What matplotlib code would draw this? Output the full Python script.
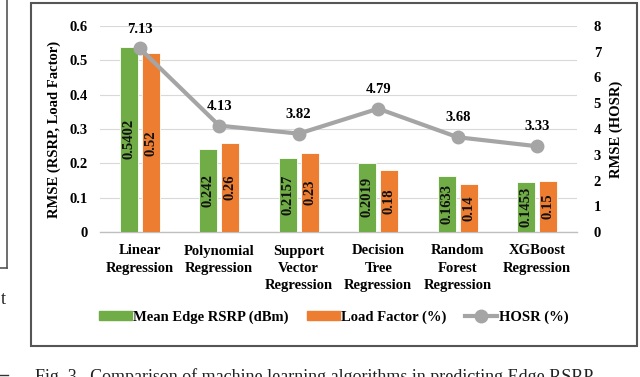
import matplotlib.pyplot as plt
import matplotlib.lines as mlines
import matplotlib.patches as mpatches
import numpy as np

plt.rcParams['font.family'] = ['Liberation Serif', 'DejaVu Serif']

# Datos
modelos = ["Linear\nRegression", "Polynomial\nRegression", "Support\nVector\nRegression",
           "Decision\nTree\nRegression", "Random\nForest\nRegression", "XGBoost\nRegression"]
rsrp = [0.5402, 0.242, 0.2157, 0.2019, 0.1633, 0.1453]
carga = [0.52, 0.26, 0.23, 0.18, 0.14, 0.15]
hosr = [7.13, 4.13, 3.82, 4.79, 3.68, 3.33]
etiquetas_rsrp = ["0.5402", "0.242", "0.2157", "0.2019", "0.1633", "0.1453"]
etiquetas_carga = ["0.52", "0.26", "0.23", "0.18", "0.14", "0.15"]

verde = "#70ad47"
naranja = "#ed7d31"
gris = "#a5a5a5"

W, H = 640, 377
fig = plt.figure(figsize=(6.4, 3.77), dpi=100)
ax = fig.add_axes([100 / W, 1 - 232 / H, 477 / W, 206 / H])
ax2 = ax.twinx()

x = np.arange(len(modelos))
ancho = 0.225
b1 = ax.bar(x - 0.14, rsrp, ancho, color=verde, edgecolor="white", linewidth=0.6, zorder=3)
b2 = ax.bar(x + 0.14, carga, ancho, color=naranja, edgecolor="white", linewidth=0.6, zorder=3)

for barras, textos in [(b1, etiquetas_rsrp), (b2, etiquetas_carga)]:
    for b, t in zip(barras, textos):
        ax.text(b.get_x() + b.get_width() / 2, b.get_height() / 2, t, rotation=90,
                ha="center", va="center", fontsize=10.5, fontweight="bold", color="#111111", zorder=4)

ax.set_ylim(0, 0.6)
ax.set_xlim(-0.5, len(modelos) - 0.5)
ax.set_yticks(np.arange(0, 0.61, 0.1))
ax.set_yticklabels(["0", "0.1", "0.2", "0.3", "0.4", "0.5", "0.6"])
ax.grid(axis="y", color="#d9d9d9", linewidth=0.8, zorder=0)
ax.set_axisbelow(True)
for s in ["top", "left", "right"]:
    ax.spines[s].set_visible(False)
ax.spines["bottom"].set_color("#bfbfbf")
ax.spines["bottom"].set_linewidth(1.0)
ax.tick_params(length=0, labelsize=10.5, pad=9)
ax.set_xticks(x)
ax.set_xticklabels(modelos, fontweight="bold", linespacing=1.45)
ax.tick_params(axis="x", pad=9)
for t in ax.get_yticklabels():
    t.set_fontweight("bold")
ax.set_ylabel("RMSE (RSRP, Load Factor)", fontsize=10.5, fontweight="bold", labelpad=6)

ax2.plot(x, hosr, color=gris, linewidth=3, marker="o", markersize=9, zorder=5)
for xi, v in zip(x, hosr):
    ax2.text(xi, v + 0.5, f"{v:.2f}", ha="center", va="bottom", fontsize=10.5, fontweight="bold")
ax2.set_ylim(0, 8)
ax2.set_yticks(range(0, 9))
for s in ["top", "left", "right", "bottom"]:
    ax2.spines[s].set_visible(False)
ax2.tick_params(length=0, labelsize=10.5, pad=12)
for t in ax2.get_yticklabels():
    t.set_fontweight("bold")
ax2.set_ylabel("RMSE (HOSR)", fontsize=10.5, fontweight="bold", labelpad=6)

# Leyenda
h1 = mpatches.Patch(color=verde)
h2 = mpatches.Patch(color=naranja)
h3 = mlines.Line2D([], [], color=gris, linewidth=3, marker="o", markersize=9)
fig.legend([h1, h2, h3], ["Mean Edge RSRP (dBm)", "Load Factor (%)", "HOSR (%)"],
           loc="center", bbox_to_anchor=(334 / W, 1 - 317 / H), ncol=3, frameon=False,
           prop={"size": 10.5, "weight": "bold"}, handlelength=2.2, handleheight=0.6,
           handletextpad=0.1, columnspacing=1.3)

# Marco de la figura
fig.patches.append(mpatches.Rectangle((31 / W, 1 - 346 / H), 606 / W, 343 / H,
                                      transform=fig.transFigure, fill=False,
                                      edgecolor="#555555", linewidth=1.5))

# Fragmento de la figura vecina y pie de figura
fig.add_artist(mlines.Line2D([7 / W, 7 / W], [1, 1 - 268 / H], color="#555555", linewidth=1.2))
fig.add_artist(mlines.Line2D([0, 7 / W], [1 - 268 / H, 1 - 268 / H], color="#555555", linewidth=1.2))
fig.text(1 / W, 1 - 300 / H, "t", fontsize=13, va="center", color="#222222")
fig.add_artist(mlines.Line2D([0, 8 / W], [1 - 375 / H, 1 - 375 / H], color="#333333", linewidth=1.0))
fig.text(35 / W, 1 - 368 / H, "Fig. 3.  Comparison of machine learning algorithms in predicting Edge RSRP",
         fontsize=13, va="top", color="#222222")

fig.savefig("out.png", dpi=100)
